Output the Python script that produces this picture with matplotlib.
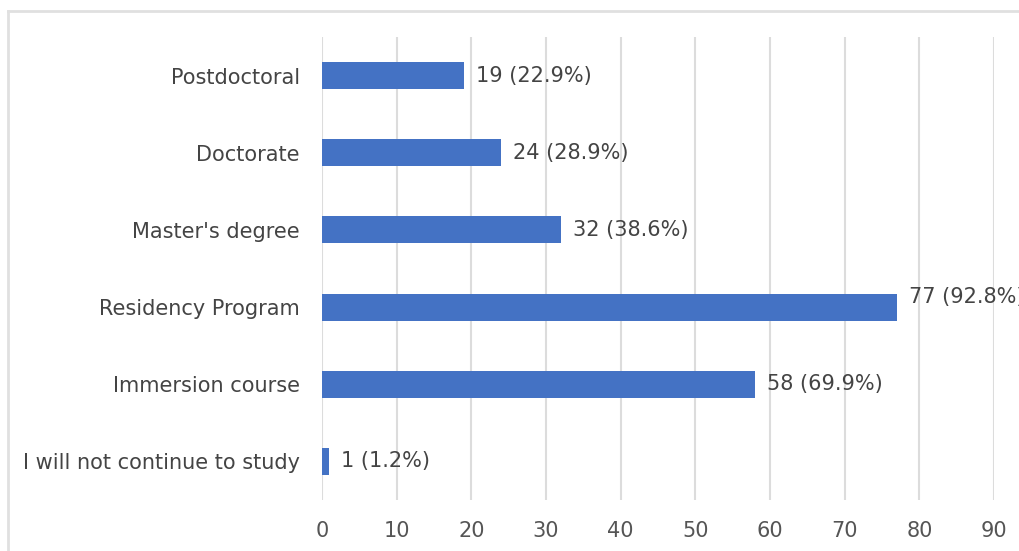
import matplotlib
matplotlib.use("Agg")
import matplotlib.pyplot as plt
from matplotlib.lines import Line2D

categories = ["I will not continue to study", "Immersion course", "Residency Program",
              "Master's degree", "Doctorate", "Postdoctoral"]
counts = [1, 58, 77, 32, 24, 19]
labels = ["1 (1.2%)", "58 (69.9%)", "77 (92.8%)", "32 (38.6%)", "24 (28.9%)", "19 (22.9%)"]
xticks = [0, 10, 20, 30, 40, 50, 60, 70, 80, 90]

plt.rcParams['font.family'] = ['DejaVu Sans']

W, H = 1020, 551
fig = plt.figure(figsize=(W / 100, H / 100), dpi=100)
ax = fig.add_axes([322 / W, 1 - 500 / H, (994 - 322) / W, (500 - 37) / H])

y = list(range(len(categories)))
ax.barh(y, counts, height=0.35, color="#4472C4", zorder=3)
ax.set_xlim(0, 90)
ax.set_ylim(-0.5, 5.5)
ax.set_xticks(xticks)
ax.set_yticks(y)
ax.set_yticklabels(categories)
ax.grid(axis="x", color="#dcdcdc", linewidth=1.5, zorder=0)
for s in ax.spines.values():
    s.set_visible(False)
ax.tick_params(axis="both", length=0, labelsize=15, colors="#444444")
ax.tick_params(axis="y", pad=16)
ax.tick_params(axis="x", pad=15, colors="#555555")

for yi, c, lab in zip(y, counts, labels):
    dy = 0.13 if c == max(counts) else 0.0
    ax.text(c + 1.6, yi + dy, lab, va="center", ha="left", fontsize=15,
            color="#444444", clip_on=False)

# screenshot frame border
fig.add_artist(Line2D([8 / W, 1.0], [1 - 11 / H, 1 - 11 / H], color="#e0e0e0", linewidth=2,
                      transform=fig.transFigure))
fig.add_artist(Line2D([8 / W, 8 / W], [0, 1 - 11 / H], color="#e0e0e0", linewidth=2,
                      transform=fig.transFigure))

fig.savefig("out.png", dpi=100)
